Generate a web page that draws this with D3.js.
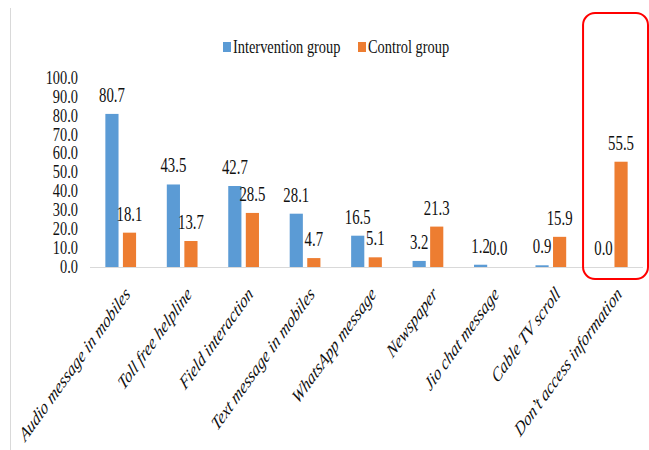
<!DOCTYPE html>
<html>
<head>
<meta charset="utf-8">
<script src="https://cdn.jsdelivr.net/npm/d3@7"></script>
<style>
  html, body { margin: 0; padding: 0; background: #fff; }
  svg { display: block; }
</style>
</head>
<body>
<svg id="chart" width="649" height="450" font-family="'Liberation Serif', 'Times New Roman', Times, serif"></svg>
<script>
const categories = ["Audio message in mobiles", "Toll free helpline", "Field interaction",
  "Text message in mobiles", "WhatsApp message", "Newspaper", "Jio chat message",
  "Cable TV scroll", "Don\u2019t access information"];
const seriesNames = ["Intervention group", "Control group"];
const intervention = [80.7, 43.5, 42.7, 28.1, 16.5, 3.2, 1.2, 0.9, 0.0];
const control = [18.1, 13.7, 28.5, 4.7, 5.1, 21.3, 0.0, 15.9, 55.5];
const yTicks = [0, 10, 20, 30, 40, 50, 60, 70, 80, 90, 100];
const highlighted = ["Don\u2019t access information"];

const colors = ["#5B9BD5", "#ED7D31"];
const SX = 0.74; // horizontal squeeze of glyphs
const FONT = "'Liberation Serif', 'Times New Roman', Times, serif";

const svg = d3.select("#chart");

// faint frame line at left
svg.append("line").attr("x1", 10.5).attr("x2", 10.5).attr("y1", 8).attr("y2", 450)
  .attr("stroke", "#d9d9d9").attr("stroke-width", 1);

const x0 = d3.scaleBand().domain(categories).range([90, 643]).padding(0);
const x1 = d3.scaleBand().domain(seriesNames)
  .range([x0.step() * 0.25, x0.step() * 0.75]).paddingInner(0.25);
const y = d3.scaleLinear().domain([0, 100]).range([267, 77.3]);

const rows = categories.map((c, i) => ({ cat: c, vals: [intervention[i], control[i]] }));

// y tick labels
svg.append("g").selectAll("text").data(yTicks).join("text")
  .attr("transform", d => `translate(78,${y(d)}) scale(0.8,1)`)
  .attr("text-anchor", "end").attr("dy", "0.35em")
  .attr("font-family", FONT).attr("font-size", 18).attr("fill", "#111")
  .text(d => d3.format(".1f")(d));

// baseline
svg.append("line").attr("x1", 90).attr("x2", 643).attr("y1", y(0) + 0.5).attr("y2", y(0) + 0.5)
  .attr("stroke", "#d9d9d9").attr("stroke-width", 1.2);

// bars
const groups = svg.append("g").selectAll("g").data(rows).join("g")
  .attr("transform", d => `translate(${x0(d.cat)},0)`);

groups.selectAll("rect").data(d => d.vals.map((v, k) => ({ v, k }))).join("rect")
  .attr("x", d => x1(seriesNames[d.k]))
  .attr("width", x1.bandwidth())
  .attr("y", d => y(d.v))
  .attr("height", d => y(0) - y(d.v))
  .attr("fill", d => colors[d.k]);

// data labels
groups.selectAll("text").data(d => d.vals.map((v, k) => ({ v, k }))).join("text")
  .attr("transform", d => `translate(${x1(seriesNames[d.k]) + x1.bandwidth() / 2},${y(d.v) - 12}) scale(${SX},1)`)
  .attr("text-anchor", "middle")
  .attr("font-family", FONT).attr("font-size", 20).attr("fill", "#111")
  .text(d => d3.format(".1f")(d.v));

// x labels
svg.append("g").selectAll("text").data(categories).join("text")
  .attr("transform", d => `translate(${x0(d) + x0.bandwidth() / 2 + 3},285) scale(0.72,1) rotate(-45)`)
  .attr("text-anchor", "end").attr("dy", "0.72em")
  .attr("font-family", FONT).attr("font-size", 20).attr("font-style", "italic").attr("fill", "#111")
  .text(d => d);

// legend
const legend = svg.append("g");
const legendX = [223, 358];
seriesNames.forEach((s, k) => {
  legend.append("rect").attr("x", legendX[k]).attr("y", 42).attr("width", 8).attr("height", 10)
    .attr("fill", colors[k]);
  legend.append("text")
    .attr("transform", `translate(${legendX[k] + 10},53) scale(0.8,1)`)
    .attr("font-family", FONT).attr("font-size", 18).attr("fill", "#111")
    .text(s);
});

// highlight box
svg.append("g").selectAll("rect").data(highlighted).join("rect")
  .attr("x", d => x0(d) + 1.5)
  .attr("y", 13)
  .attr("width", x0.step() + 3.5)
  .attr("height", y(0) + 12 - 13)
  .attr("rx", 12).attr("ry", 12)
  .attr("fill", "none").attr("stroke", "#FF0000").attr("stroke-width", 2);
</script>
</body>
</html>
